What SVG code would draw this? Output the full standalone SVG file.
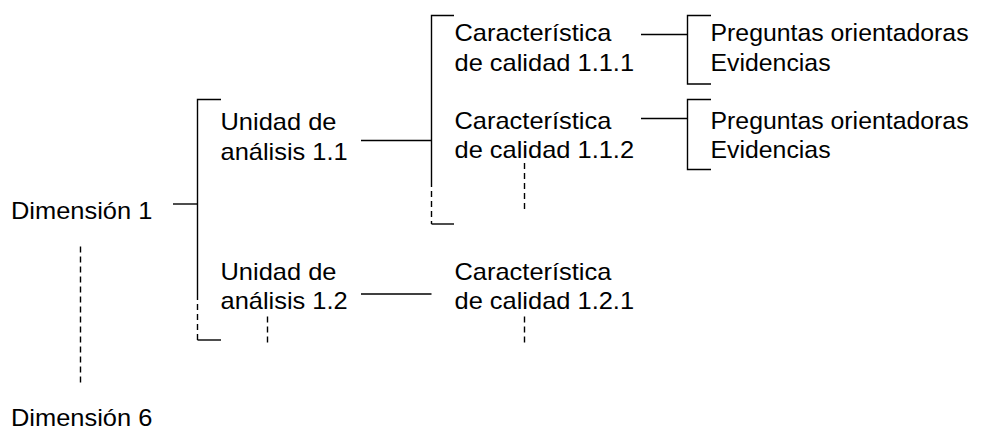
<svg xmlns="http://www.w3.org/2000/svg" width="985" height="430" viewBox="0 0 985 430">
<style>
  text { font-family: "Liberation Sans", Arial, sans-serif; font-size: 24px; fill: #000; }
  .ln { fill: none; stroke: #000; stroke-width: 1.4; }
  .dash { fill: none; stroke: #000; stroke-width: 1.4; stroke-dasharray: 6 4; }
</style>
<rect width="985" height="430" fill="#fff"/>
<g id="connectors">
  <path class="ln" d="M173 204 H197.5"/>
  <path class="ln" d="M221 99.5 H197.5 V294"/>
  <path class="dash" d="M197.5 294 V340"/>
  <path class="ln" d="M197.5 340 H221"/>
  <path class="ln" d="M361 140.5 H431.5"/>
  <path class="ln" d="M454 15.5 H431.5 V181"/>
  <path class="dash" d="M431.5 181 V224"/>
  <path class="ln" d="M431.5 224 H454"/>
  <path class="ln" d="M641 34.5 H687.5"/>
  <path class="ln" d="M711 15.5 H687.5 V84 H711"/>
  <path class="ln" d="M641 118.5 H687.5"/>
  <path class="ln" d="M711 99.5 H687.5 V169.5 H711"/>
  <path class="ln" d="M361 294 H431.5"/>
  <path class="dash" d="M80.5 246.5 V386"/>
  <path class="dash" d="M267.5 316.5 V346"/>
  <path class="dash" d="M524.5 163 V211"/>
  <path class="dash" d="M524.5 316.5 V346"/>
</g>
<g id="dimension1">
  <text transform="translate(11 219.3) scale(1.06 1)">Dimensión 1</text>
</g>
<g id="dimension6">
  <text transform="translate(11 426) scale(1.06 1)">Dimensión 6</text>
</g>
<g id="unidad11">
  <text transform="translate(220.5 129.5) scale(1.06 1)"><tspan x="0" y="0">Unidad de</tspan><tspan x="0" y="30.5">análisis 1.1</tspan></text>
</g>
<g id="unidad12">
  <text transform="translate(220.5 279.5) scale(1.06 1)"><tspan x="0" y="0">Unidad de</tspan><tspan x="0" y="30">análisis 1.2</tspan></text>
</g>
<g id="car111">
  <text transform="translate(454.5 41) scale(1.06 1)"><tspan x="0" y="0">Característica</tspan><tspan x="0" y="30">de calidad 1.1.1</tspan></text>
</g>
<g id="car112">
  <text transform="translate(454.5 128.5) scale(1.06 1)"><tspan x="0" y="0">Característica</tspan><tspan x="0" y="30">de calidad 1.1.2</tspan></text>
</g>
<g id="car121">
  <text transform="translate(454.5 279.5) scale(1.06 1)"><tspan x="0" y="0">Característica</tspan><tspan x="0" y="30">de calidad 1.2.1</tspan></text>
</g>
<g id="preg111">
  <text transform="translate(710.5 41) scale(1.035 1)"><tspan x="0" y="0">Preguntas orientadoras</tspan><tspan x="0" y="30">Evidencias</tspan></text>
</g>
<g id="preg112">
  <text transform="translate(710.5 128.5) scale(1.035 1)"><tspan x="0" y="0">Preguntas orientadoras</tspan><tspan x="0" y="29.5">Evidencias</tspan></text>
</g>
</svg>
